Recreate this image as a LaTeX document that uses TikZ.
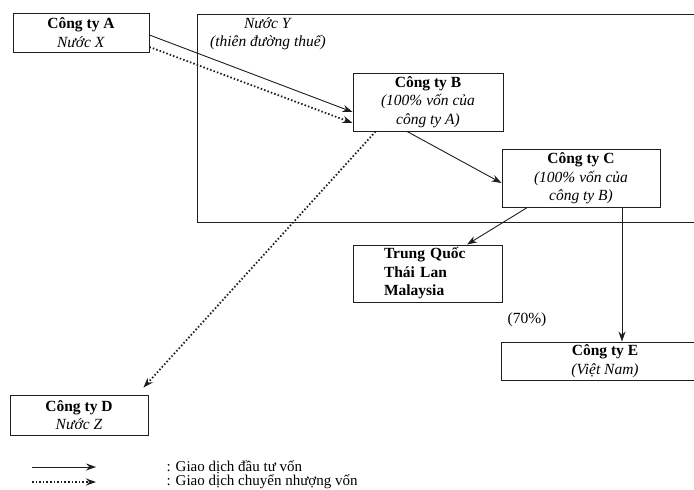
\documentclass[tikz,border=0pt]{standalone}
\usepackage{fontspec}
\setmainfont{Liberation Serif}
\usetikzlibrary{arrows.meta}
\definecolor{Ink}{RGB}{30,30,30}

\tikzset{
  box/.style={draw=Ink, line width=0.9pt, inner sep=0pt, align=center,
    font=\fontsize{15.5}{18.5}\selectfont},
  invest/.style={->, draw=Ink, line width=0.9pt},
  transfer/.style={->, draw=Ink, line width=1.8pt, dash pattern=on 1.5pt off 2.1pt}
}

\begin{document}
\begin{tikzpicture}[x=1pt, y=-1pt, >={Stealth[length=10pt,width=7pt]}]
\useasboundingbox (0,0) rectangle (694,490);
\clip (0,0) rectangle (694,490);
\fill[white] (0,0) rectangle (694,490);

\draw[Ink, line width=0.9pt] (197,14) rectangle (720,222);
\node[align=center, font=\fontsize{15.5}{18.5}\selectfont] (nuocY) at (268,34)
  {\textit{Nước Y}\\\textit{(thiên đường thuế)}};

\node[box, minimum width=136pt, minimum height=39pt] (ctA) at (81,32.5)
  {\textbf{Công ty A}\\\textit{Nước X}};
\node[box, minimum width=150pt, minimum height=58pt] (ctB) at (428,102)
  {\textbf{Công ty B}\\\textit{(100\% vốn của}\\\textit{công ty A)}};
\node[box, minimum width=158pt, minimum height=58pt] (ctC) at (581,178.5)
  {\textbf{Công ty C}\\\textit{(100\% vốn của}\\\textit{công ty B)}};
\node[box, minimum width=149pt, minimum height=57pt, align=left, text width=87pt,
  inner xsep=31pt] (nuocKhac) at (427.5,273.5)
  {\textbf{Trung Quốc}\\\textbf{Thái Lan}\\\textbf{Malaysia}};
\node[box, minimum width=208pt, minimum height=38pt] (ctE) at (605,361)
  {\textbf{Công ty E}\\\textit{(Việt Nam)}};
\node[box, minimum width=138pt, minimum height=40pt] (ctD) at (79,415)
  {\textbf{Công ty D}\\\textit{Nước Z}};
\node[font=\fontsize{15.5}{18.5}\selectfont] (tyle) at (527,320) {(70\%)};

\draw[invest] ([yshift=-2.5pt]ctA.east) -- ([yshift=-10pt]ctB.west);
\draw[transfer] ([yshift=-14.5pt]ctA.east) -- ([yshift=-21pt]ctB.west);
\draw[transfer] ([xshift=23pt]ctB.south west) -- ([xshift=-5pt,yshift=7pt]ctD.north east);
\draw[invest] ([xshift=-21pt]ctB.south) -- ([yshift=-4.5pt]ctC.west);
\draw[invest] ([xshift=25pt]ctC.south west) -- ([xshift=39.5pt]nuocKhac.north);
\draw[invest] ([xshift=41pt]ctC.south) -- ([xshift=41pt]ctC.south |- ctE.north);

\coordinate (legS1) at (32,467);
\coordinate (legS2) at (96,467);
\coordinate (legD1) at (32,482);
\coordinate (legD2) at (96,482);
\draw[invest] (legS1) -- (legS2);
\draw[transfer] (legD1) -- (legD2);
\node[anchor=west, font=\fontsize{15}{17}\selectfont] (chuS) at (163,467) {: Giao dịch đầu tư vốn};
\node[anchor=west, font=\fontsize{15}{17}\selectfont] (chuD) at (163,482) {: Giao dịch chuyển nhượng vốn};
\end{tikzpicture}
\end{document}
